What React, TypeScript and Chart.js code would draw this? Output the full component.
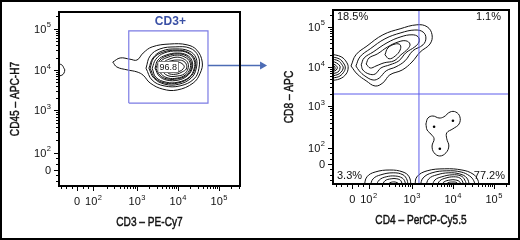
import React, { useEffect, useRef } from 'react';
import { Chart, registerables } from 'chart.js';
Chart.register(...registerables);

type Pt = [number, number];

// ---- axis ticks (decade units of the biexponential display) ----
const TICK_LABELS = ['0', '10²', '10³', '10⁴', '10⁵'];
const X_TICK_VALUES = [1.54, 1.94, 3, 4, 5];
const Y_TICK_VALUES = [1.55, 1.96, 3, 3.97, 4.98];

const LEFT_X_TITLE = 'CD3 – PE-Cy7';
const LEFT_Y_TITLE = 'CD45 – APC-H7';
const RIGHT_X_TITLE = 'CD4 – PerCP-Cy5.5';
const RIGHT_Y_TITLE = 'CD8 – APC';

// ---- left plot: gate ----
const GATE_LABEL = 'CD3+';
const GATE_VALUE = '96.8';
const GATE_X = [2.8, 4.73];
const GATE_Y = [3.17, 4.93];
const GATE_VALUE_POS: Pt = [3.76, 4.05];
const ARROW_Y = 4.1;
const ARROW_END_X = 6.17;

// ---- left plot contours ----
const L_OUTER: Pt[] = [[2.41,4.17],[2.59,4.27],[2.83,4.24],[3.0,4.22],[3.15,4.39],[3.37,4.54],[3.8,4.61],[4.22,4.59],[4.46,4.46],[4.59,4.17],[4.54,3.9],[4.37,3.66],[3.98,3.49],[3.63,3.51],[3.32,3.66],[3.15,3.85],[3.0,3.93],[2.76,3.98],[2.51,4.05],[2.41,4.17]];
const L_RING2: Pt[] = [[3.22,4.02],[3.32,4.32],[3.56,4.49],[3.93,4.54],[4.29,4.51],[4.49,4.32],[4.51,4.02],[4.39,3.76],[4.05,3.59],[3.66,3.59],[3.37,3.73],[3.22,4.02]];
const L_RING3: Pt[] = [[3.29,4.02],[3.39,4.27],[3.61,4.44],[3.95,4.49],[4.27,4.44],[4.44,4.27],[4.44,4.0],[4.32,3.78],[4.02,3.63],[3.68,3.63],[3.41,3.78],[3.29,4.02]];
const L_RING3B: Pt[] = [[3.32,4.02],[3.41,4.27],[3.63,4.41],[3.95,4.46],[4.24,4.41],[4.41,4.24],[4.41,4.0],[4.29,3.8],[4.0,3.66],[3.68,3.66],[3.44,3.78],[3.32,4.02]];
const L_RING4: Pt[] = [[3.37,4.02],[3.46,4.24],[3.66,4.39],[3.98,4.44],[4.24,4.39],[4.39,4.22],[4.39,4.0],[4.27,3.8],[4.0,3.68],[3.71,3.68],[3.46,3.8],[3.37,4.02]];
const L_RING5: Pt[] = [[3.44,4.02],[3.51,4.22],[3.71,4.34],[3.98,4.39],[4.22,4.34],[4.34,4.2],[4.34,4.0],[4.22,3.83],[4.0,3.73],[3.73,3.73],[3.54,3.83],[3.44,4.02]];
const L_RING5B: Pt[] = [[3.46,4.02],[3.56,4.22],[3.73,4.32],[3.98,4.37],[4.2,4.32],[4.32,4.17],[4.32,4.0],[4.2,3.84],[3.98,3.76],[3.73,3.76],[3.56,3.85],[3.46,4.02]];
const L_RING6: Pt[] = [[3.51,4.05],[3.59,4.2],[3.76,4.29],[3.98,4.34],[4.17,4.29],[4.29,4.17],[4.29,4.0],[4.17,3.85],[3.98,3.78],[3.76,3.78],[3.59,3.88],[3.51,4.05]];
const L_RING7: Pt[] = [[3.59,4.05],[3.66,4.17],[3.78,4.24],[3.98,4.29],[4.15,4.24],[4.24,4.15],[4.24,4.0],[4.15,3.88],[3.98,3.83],[3.78,3.83],[3.63,3.93],[3.59,4.05]];
const L_RING8: Pt[] = [[3.66,4.05],[3.71,4.15],[3.83,4.2],[3.98,4.22],[4.12,4.2],[4.2,4.12],[4.2,4.0],[4.1,3.93],[3.98,3.88],[3.8,3.88],[3.71,3.95],[3.66,4.05]];
const L_RING9: Pt[] = [[3.73,4.05],[3.78,4.12],[3.88,4.17],[3.98,4.17],[4.07,4.15],[4.15,4.07],[4.12,4.0],[4.05,3.95],[3.95,3.93],[3.83,3.93],[3.76,3.98],[3.73,4.05]];
const L_EDGE: Pt[] = [[1.05,4.13],[1.17,4.1],[1.22,4.02],[1.24,3.98],[1.22,3.9],[1.17,3.85],[1.05,3.82]];

// ---- right plot: quadrants ----
const QUAD_X = 3.17;
const QUAD_Y = 3.3;
const QUAD_LABELS = ['18.5%', '1.1%', '3.3%', '77.2%'];

// ---- right plot contours ----
const R_CD8_1: Pt[] = [[1.51,4.0],[1.63,4.28],[1.9,4.5],[2.29,4.78],[2.71,4.93],[3.12,5.03],[3.37,4.98],[3.49,4.78],[3.44,4.55],[3.2,4.35],[3.0,4.1],[2.76,3.9],[2.46,3.78],[2.29,3.58],[2.1,3.5],[1.88,3.63],[1.66,3.8],[1.51,4.0]];
const R_CD8_2: Pt[] = [[1.63,4.0],[1.73,4.23],[1.98,4.43],[2.34,4.68],[2.73,4.83],[3.07,4.9],[3.27,4.85],[3.34,4.7],[3.27,4.53],[3.02,4.38],[2.83,4.13],[2.61,3.98],[2.37,3.88],[2.2,3.7],[2.05,3.65],[1.85,3.75],[1.71,3.88],[1.63,4.0]];
const R_CD8_3: Pt[] = [[1.76,4.03],[1.83,4.2],[2.05,4.35],[2.39,4.58],[2.73,4.73],[3.0,4.78],[3.15,4.73],[3.17,4.6],[3.07,4.48],[2.85,4.33],[2.68,4.13],[2.46,4.03],[2.24,3.95],[2.1,3.8],[1.95,3.8],[1.8,3.9],[1.76,4.03]];
const R_CD8_4: Pt[] = [[1.88,4.05],[1.95,4.2],[2.15,4.3],[2.41,4.48],[2.66,4.6],[2.85,4.63],[2.95,4.55],[2.9,4.43],[2.73,4.28],[2.56,4.13],[2.32,4.08],[2.12,4.0],[1.98,3.95],[1.88,4.05]];
const R_CD8_5: Pt[] = [[2.34,4.28],[2.41,4.45],[2.59,4.55],[2.71,4.53],[2.71,4.4],[2.59,4.25],[2.44,4.18],[2.34,4.28]];

const R_EDGE_1: Pt[] = [[1.0,4.3],[1.27,4.23],[1.41,4.08],[1.44,3.95],[1.39,3.8],[1.24,3.68],[1.0,3.63]];
const R_EDGE_2: Pt[] = [[1.0,4.23],[1.22,4.18],[1.34,4.05],[1.37,3.95],[1.32,3.83],[1.2,3.73],[1.0,3.7]];
const R_EDGE_3: Pt[] = [[1.0,4.18],[1.2,4.13],[1.29,4.03],[1.32,3.95],[1.27,3.85],[1.17,3.78],[1.0,3.75]];
const R_EDGE_4: Pt[] = [[1.0,4.13],[1.15,4.08],[1.24,4.0],[1.24,3.95],[1.22,3.88],[1.15,3.83],[1.0,3.8]];
const R_EDGE_5: Pt[] = [[1.0,4.08],[1.12,4.03],[1.17,3.98],[1.17,3.93],[1.12,3.88],[1.0,3.85]];
const R_EDGE_6: Pt[] = [[1.0,4.03],[1.1,4.0],[1.12,3.95],[1.1,3.9],[1.0,3.9]];

const R_DN_1: Pt[] = [[1.83,1.0],[1.9,1.23],[2.1,1.35],[2.46,1.4],[2.78,1.35],[2.93,1.23],[2.98,1.0]];
const R_DN_2: Pt[] = [[1.98,1.0],[2.05,1.18],[2.24,1.28],[2.54,1.33],[2.78,1.28],[2.88,1.15],[2.9,1.0]];
const R_DN_3: Pt[] = [[2.12,1.0],[2.2,1.15],[2.37,1.23],[2.59,1.25],[2.76,1.2],[2.83,1.1],[2.83,1.0]];
const R_DN_4: Pt[] = [[2.27,1.0],[2.34,1.13],[2.49,1.18],[2.63,1.18],[2.73,1.13],[2.76,1.0]];
const R_DN_5: Pt[] = [[2.39,1.0],[2.46,1.08],[2.59,1.1],[2.68,1.05],[2.68,1.0]];

const R_CD4_1: Pt[] = [[3.07,1.0],[3.12,1.23],[3.37,1.38],[3.8,1.43],[4.22,1.4],[4.49,1.3],[4.61,1.15],[4.63,1.0]];
const R_CD4_2: Pt[] = [[3.2,1.0],[3.27,1.2],[3.49,1.33],[3.85,1.38],[4.2,1.35],[4.41,1.25],[4.51,1.13],[4.54,1.0]];
const R_CD4_3: Pt[] = [[3.34,1.0],[3.41,1.18],[3.61,1.28],[3.9,1.33],[4.17,1.3],[4.34,1.2],[4.41,1.0]];
const R_CD4_4: Pt[] = [[3.49,1.0],[3.56,1.15],[3.73,1.23],[3.98,1.28],[4.2,1.25],[4.29,1.15],[4.34,1.0]];
const R_CD4_5: Pt[] = [[3.61,1.0],[3.68,1.13],[3.83,1.2],[4.02,1.23],[4.17,1.2],[4.24,1.1],[4.27,1.0]];
const R_CD4_6: Pt[] = [[3.71,1.0],[3.78,1.1],[3.93,1.15],[4.07,1.15],[4.17,1.1],[4.2,1.0]];
const R_CD4_7: Pt[] = [[3.8,1.0],[3.88,1.08],[4.0,1.1],[4.1,1.08],[4.12,1.0]];
const R_CD4_8: Pt[] = [[3.9,1.0],[3.95,1.05],[4.05,1.05],[4.07,1.0]];

const R_MID: Pt[] = [[3.34,2.55],[3.39,2.7],[3.51,2.75],[3.66,2.7],[3.78,2.73],[3.93,2.85],[4.07,2.85],[4.17,2.73],[4.15,2.55],[4.0,2.43],[3.85,2.33],[3.85,2.18],[3.9,2.0],[3.83,1.83],[3.68,1.75],[3.54,1.83],[3.49,2.0],[3.54,2.18],[3.46,2.3],[3.37,2.4],[3.34,2.55]];
const R_MID_PEAKS: Pt[] = [[3.54,2.48],[4.0,2.63],[3.68,1.93]];

// ---- styling ----
const FONT_SANS = 'Arial, "Liberation Sans", Helvetica, sans-serif';
const CONTOUR_COLOR = '#111';
const GATE_COLOR = '#7b7be4';
const QUAD_COLOR = '#5d5deb';
const ARROW_COLOR = '#4d6cb5';
const LABEL_BLUE = '#3a50a5';

const SUP: Record<string, string> = { '²': '2', '³': '3', '⁴': '4', '⁵': '5' };

function drawTickLabel(ctx: CanvasRenderingContext2D, label: string, x: number, y: number, align: 'center' | 'right') {
  let base = '';
  let sup = '';
  for (const ch of label) {
    if (SUP[ch]) sup += SUP[ch];
    else base += ch;
  }
  const baseFont = '11px ' + FONT_SANS;
  const supFont = '7.5px ' + FONT_SANS;
  ctx.font = baseFont;
  const w1 = ctx.measureText(base).width;
  ctx.font = supFont;
  const w2 = sup ? ctx.measureText(sup).width + 0.5 : 0;
  const w = w1 + w2;
  const x0 = align === 'center' ? x - w / 2 : x - w;
  ctx.textAlign = 'left';
  ctx.textBaseline = 'alphabetic';
  ctx.font = baseFont;
  ctx.fillText(base, x0, y + 4);
  if (sup) {
    ctx.font = supFont;
    ctx.fillText(sup, x0 + w1 + 0.5, y - 1.5);
  }
}

// condensed title: regular sans squeezed horizontally, slightly emboldened
function drawNarrow(ctx: CanvasRenderingContext2D, text: string, x: number, y: number, rotate: boolean) {
  ctx.save();
  ctx.translate(x, y);
  if (rotate) ctx.rotate(-Math.PI / 2);
  ctx.scale(0.78, 1);
  ctx.font = '13px ' + FONT_SANS;
  ctx.textAlign = 'center';
  ctx.textBaseline = 'middle';
  ctx.fillStyle = '#111';
  ctx.strokeStyle = '#111';
  ctx.lineWidth = 0.45;
  ctx.fillText(text, 0, 0);
  ctx.strokeText(text, 0, 0);
  ctx.restore();
}

function minorPositions(t: number[], min: number, max: number): number[] {
  const out: number[] = [];
  for (let i = 1; i < t.length; i++) {
    const span = i < t.length - 1 ? t[i + 1] - t[i] : t[i] - t[i - 1];
    for (let k = 2; k <= 9; k++) {
      const p = t[i] + Math.log10(k) * span;
      if (p < max) out.push(p);
    }
  }
  const step = (t[1] - t[0]) / 3;
  for (let p = t[1] - step; p > min; p -= step) {
    if (Math.abs(p - t[0]) > 0.02) out.push(p);
  }
  return out;
}

const decorPlugin = {
  id: 'flowDecor',
  afterDatasetsDraw(chart: any, _args: any, opts: any) {
    const ctx: CanvasRenderingContext2D = chart.ctx;
    const a = chart.chartArea;
    const xs = chart.scales.x;
    const ys = chart.scales.y;
    ctx.save();

    // quadrant percentages
    if (opts.quadLabels) {
      ctx.fillStyle = '#111';
      ctx.font = '11px ' + FONT_SANS;
      ctx.textBaseline = 'middle';
      const [tl, tr, bl, br] = opts.quadLabels as string[];
      ctx.textAlign = 'left';
      ctx.fillText(tl, a.left + 4, a.top + 7);
      ctx.fillText(bl, a.left + 4, a.bottom - 8);
      ctx.textAlign = 'right';
      ctx.fillText(tr, a.right - 8, a.top + 7);
      ctx.fillText(br, a.right - 4, a.bottom - 8);
    }

    // gate annotations
    if (opts.gate) {
      const gx0 = xs.getPixelForValue(GATE_X[0]);
      const gx1 = xs.getPixelForValue(GATE_X[1]);
      const gyTop = ys.getPixelForValue(GATE_Y[1]);
      ctx.fillStyle = LABEL_BLUE;
      ctx.font = 'bold 12px ' + FONT_SANS;
      ctx.textAlign = 'center';
      ctx.textBaseline = 'middle';
      ctx.fillText(GATE_LABEL, (gx0 + gx1) / 2 + 2, gyTop - 9);

      // value box
      const vx = xs.getPixelForValue(GATE_VALUE_POS[0]);
      const vy = ys.getPixelForValue(GATE_VALUE_POS[1]);
      ctx.font = '9px ' + FONT_SANS;
      const tw = ctx.measureText(GATE_VALUE).width;
      ctx.fillStyle = '#fff';
      ctx.fillRect(vx - tw / 2 - 1.5, vy - 5.5, tw + 3, 11);
      ctx.strokeStyle = '#666';
      ctx.lineWidth = 0.8;
      ctx.strokeRect(vx - tw / 2 - 1.5, vy - 5.5, tw + 3, 11);
      ctx.fillStyle = '#111';
      ctx.fillText(GATE_VALUE, vx, vy + 0.5);

      // arrow
      const ay = Math.round(ys.getPixelForValue(ARROW_Y)) + 0.5;
      const ax2 = xs.getPixelForValue(ARROW_END_X);
      ctx.strokeStyle = ARROW_COLOR;
      ctx.fillStyle = ARROW_COLOR;
      ctx.lineWidth = 1.5;
      ctx.beginPath();
      ctx.moveTo(gx1, ay);
      ctx.lineTo(ax2 - 5, ay);
      ctx.stroke();
      ctx.beginPath();
      ctx.moveTo(ax2, ay);
      ctx.lineTo(ax2 - 7, ay - 4);
      ctx.lineTo(ax2 - 7, ay + 4);
      ctx.closePath();
      ctx.fill();
    }

    // frame
    ctx.strokeStyle = '#000';
    ctx.lineWidth = 2;
    ctx.strokeRect(a.left, a.top, a.right - a.left, a.bottom - a.top);

    // ticks
    ctx.lineWidth = 1;
    ctx.beginPath();
    X_TICK_VALUES.forEach((v) => {
      const p = Math.round(xs.getPixelForValue(v)) + 0.5;
      ctx.moveTo(p, a.bottom);
      ctx.lineTo(p, a.bottom + 5);
    });
    minorPositions(X_TICK_VALUES, xs.min, xs.max).forEach((v) => {
      const p = Math.round(xs.getPixelForValue(v)) + 0.5;
      ctx.moveTo(p, a.bottom);
      ctx.lineTo(p, a.bottom + 3);
    });
    Y_TICK_VALUES.forEach((v) => {
      const p = Math.round(ys.getPixelForValue(v)) + 0.5;
      ctx.moveTo(a.left, p);
      ctx.lineTo(a.left - 5, p);
    });
    minorPositions(Y_TICK_VALUES, ys.min, ys.max).forEach((v) => {
      const p = Math.round(ys.getPixelForValue(v)) + 0.5;
      ctx.moveTo(a.left, p);
      ctx.lineTo(a.left - 3, p);
    });
    ctx.stroke();

    // tick labels
    ctx.fillStyle = '#111';
    X_TICK_VALUES.forEach((v, i) => {
      drawTickLabel(ctx, TICK_LABELS[i], xs.getPixelForValue(v), a.bottom + 15, 'center');
    });
    Y_TICK_VALUES.forEach((v, i) => {
      drawTickLabel(ctx, TICK_LABELS[i], a.left - 8, ys.getPixelForValue(v), 'right');
    });

    // axis titles
    drawNarrow(ctx, opts.xTitle, (a.left + a.right) / 2, a.bottom + 36, false);
    drawNarrow(ctx, opts.yTitle, a.left - 44, (a.top + a.bottom) / 2, true);

    ctx.restore();
  },
};

function lineSet(pts: Pt[], color = CONTOUR_COLOR, width = 1, tension = 0.4) {
  return {
    data: pts.map(([x, y]) => ({ x, y })),
    showLine: true,
    pointRadius: 0,
    borderColor: color,
    borderWidth: width,
    tension,
    fill: false,
  };
}

function makeConfig(p: any) {
  return {
    type: 'scatter',
    data: { datasets: p.datasets },
    options: {
      animation: false,
      responsive: false,
      events: [],
      layout: { padding: { left: 0, right: p.padRight, top: p.padTop, bottom: 0 } },
      elements: { line: { capBezierPoints: false } },
      plugins: {
        legend: { display: false },
        tooltip: { enabled: false },
        flowDecor: { xTitle: p.xTitle, yTitle: p.yTitle, quadLabels: p.quadLabels, gate: p.gate },
      },
      scales: {
        x: {
          type: 'linear',
          min: p.xMin,
          max: p.xMax,
          ticks: { display: false },
          grid: { display: false },
          border: { display: false },
          afterFit: (s: any) => { s.height = p.xAxisHeight; },
        },
        y: {
          type: 'linear',
          min: p.yMin,
          max: p.yMax,
          ticks: { display: false },
          grid: { display: false },
          border: { display: false },
          afterFit: (s: any) => { s.width = p.yAxisWidth; },
        },
      },
    },
    plugins: [decorPlugin],
  };
}

function leftConfig() {
  const rings = [L_OUTER, L_RING2, L_RING3, L_RING3B, L_RING4, L_RING5, L_RING5B, L_RING6, L_RING7, L_RING8, L_RING9, L_EDGE];
  const gate: Pt[] = [[GATE_X[0], GATE_Y[0]], [GATE_X[1], GATE_Y[0]], [GATE_X[1], GATE_Y[1]], [GATE_X[0], GATE_Y[1]], [GATE_X[0], GATE_Y[0]]];
  return makeConfig({
    datasets: [lineSet(gate, GATE_COLOR, 1.2, 0), ...rings.map((r) => lineSet(r, CONTOUR_COLOR, 1))],
    xMin: 1.1, xMax: 5.51, yMin: 1.15, yMax: 5.39,
    padRight: 40, padTop: 12, xAxisHeight: 54, yAxisWidth: 59,
    xTitle: LEFT_X_TITLE, yTitle: LEFT_Y_TITLE, gate: true,
  });
}

function rightConfig() {
  const rings = [
    R_CD8_1, R_CD8_2, R_CD8_3, R_CD8_4, R_CD8_5,
    R_EDGE_1, R_EDGE_2, R_EDGE_3, R_EDGE_4, R_EDGE_5, R_EDGE_6,
    R_DN_1, R_DN_2, R_DN_3, R_DN_4, R_DN_5,
    R_CD4_1, R_CD4_2, R_CD4_3, R_CD4_4, R_CD4_5, R_CD4_6, R_CD4_7, R_CD4_8,
    R_MID,
  ];
  const xMin = 1.07, xMax = 5.37, yMin = 1.05, yMax = 5.4;
  const vLine: Pt[] = [[QUAD_X, yMin - 1], [QUAD_X, yMax + 1]];
  const hLine: Pt[] = [[xMin - 1, QUAD_Y], [xMax + 1, QUAD_Y]];
  return makeConfig({
    datasets: [
      {
        data: R_MID_PEAKS.map(([x, y]) => ({ x, y })),
        pointRadius: 1.3,
        pointBackgroundColor: '#000',
        pointBorderWidth: 0,
        showLine: false,
      },
      lineSet(vLine, QUAD_COLOR, 1, 0),
      lineSet(hLine, QUAD_COLOR, 1, 0),
      ...rings.map((r) => lineSet(r, CONTOUR_COLOR, 1)),
    ],
    xMin, xMax, yMin, yMax,
    padRight: 11, padTop: 10, xAxisHeight: 56, yAxisWidth: 53,
    xTitle: RIGHT_X_TITLE, yTitle: RIGHT_Y_TITLE, quadLabels: QUAD_LABELS,
  });
}

function FlowPlot({ make, left, width }: { make: () => any; left: number; width: number }) {
  const ref = useRef<HTMLCanvasElement>(null);
  useEffect(() => {
    if (!ref.current) return;
    const chart = new Chart(ref.current, make());
    return () => chart.destroy();
  }, [make]);
  return (
    <canvas
      ref={ref}
      width={width}
      height={240}
      style={{ position: 'absolute', left, top: 0, width, height: 240 }}
    />
  );
}

export default function App() {
  useEffect(() => {
    document.body.style.margin = '0';
  }, []);
  return (
    <div style={{ position: 'relative', width: 520, height: 240, background: '#fff', overflow: 'hidden' }}>
      <FlowPlot make={leftConfig} left={0} width={280} />
      <FlowPlot make={rightConfig} left={280} width={240} />
      <div
        style={{
          position: 'absolute', left: 0, top: 0, width: 520, height: 240,
          border: '2px solid #000', boxSizing: 'border-box', pointerEvents: 'none',
        }}
      />
    </div>
  );
}
